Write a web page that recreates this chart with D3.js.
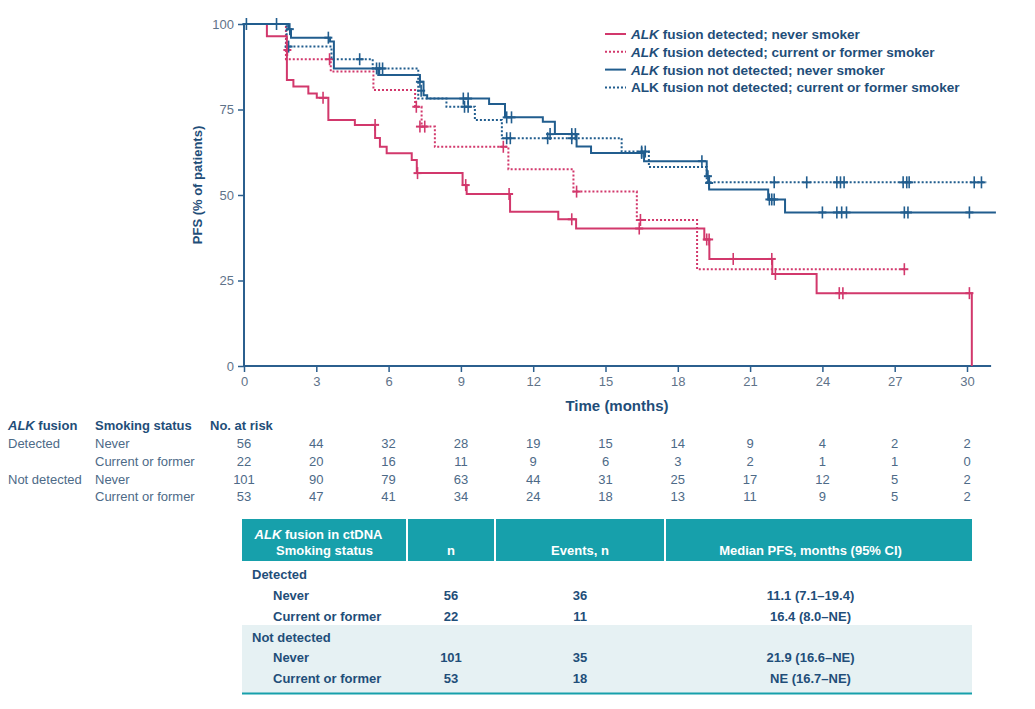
<!DOCTYPE html>
<html><head><meta charset="utf-8">
<script src="https://cdn.jsdelivr.net/npm/d3@7"></script>
<style>body{margin:0;background:#fff}svg{display:block;font-family:"Liberation Sans",Arial,sans-serif}</style>
</head><body><svg id="c" width="1035" height="709"></svg>
<script>
// ---- data ----
const xTicks = [0,3,6,9,12,15,18,21,24,27,30];
const yTicks = [0,25,50,75,100];
// step curves: [time (months), PFS % after step]
const detNever = [[0,100],[0.95,96.4],[1.78,83.6],[2.05,81.7],[2.67,79.7],[3.02,78.4],[3.5,71.9],[4.6,70.5],[5.44,66.7],[5.64,64.1],[5.92,62.2],[6.96,60.2],[7.17,56.4],[9.07,52.9],[9.24,50.3],[11.04,45.1],[13.04,42.9],[13.78,40.2],[19.1,37.0],[19.31,31.3],[21.92,26.9],[23.76,21.3],[30.2,0]];
const detNeverEnd = 30.2;
const detNeverCens = [[3.28,78.4],[5.44,70.5],[7.2,56.4],[9.2,52.9],[11.0,50.3],[13.6,42.9],[16.4,40.2],[19.2,37.0],[19.3,37.0],[20.3,31.3],[21.9,31.3],[22.05,26.9],[24.7,21.3],[24.85,21.3],[30.1,21.3]];
const detCurrent = [[0,100],[1.74,89.7],[3.6,86.1],[5.37,80.7],[7.1,75.8],[7.37,70.0],[7.92,64.1],[10.97,57.5],[13.67,51.0],[16.3,42.7],[18.8,28.3]];
const detCurrentEnd = 27.4;
const detCurrentCens = [[1.8,92.4],[3.55,89.7],[7.15,75.8],[7.3,70.0],[7.5,70.0],[10.76,64.1],[13.8,51.0],[16.45,42.7],[27.4,28.3]];
const notDetNever = [[0,100],[1.84,98.5],[1.95,96.0],[3.57,94.9],[3.73,87.0],[5.57,85.1],[7.3,83.1],[7.45,79.2],[7.6,78.2],[10.17,76.6],[10.83,72.7],[12.4,71.4],[12.9,67.8],[13.8,64.2],[14.4,62.3],[16.6,59.9],[19.2,55.5],[19.3,51.6],[21.75,48.7],[22.45,44.9]];
const notDetNeverEnd = 31.2;
const notDetNeverCens = [[0.1,100],[1.35,100],[1.9,98.5],[3.5,96.0],[5.5,87.0],[7.3,83.1],[9.1,78.2],[9.3,78.2],[10.9,72.7],[11.1,72.7],[12.7,67.8],[13.6,67.8],[13.75,67.8],[16.5,62.3],[19.0,59.9],[19.3,53.5],[21.8,48.7],[21.9,48.7],[22.0,48.7],[24.0,44.9],[24.6,44.9],[24.8,44.9],[25.0,44.9],[27.4,44.9],[27.55,44.9],[30.1,44.9]];
const notDetCurrent = [[0,100],[1.77,93.4],[3.63,89.7],[5.34,87.0],[7.23,78.2],[8.4,75.8],[9.58,71.9],[10.7,66.6],[15.67,62.7],[16.8,58.2],[19.2,53.7]];
const notDetCurrentEnd = 30.8;
const notDetCurrentCens = [[1.85,93.4],[4.8,89.7],[5.62,87.0],[5.75,87.0],[7.35,80.5],[9.15,75.8],[9.3,75.8],[10.9,66.6],[11.05,66.6],[12.6,66.6],[13.6,66.6],[16.5,62.7],[16.65,62.7],[19.25,55.5],[22.0,53.7],[23.35,53.7],[24.6,53.7],[24.75,53.7],[24.9,53.7],[27.35,53.7],[27.5,53.7],[27.6,53.7],[30.3,53.7],[30.6,53.7]];
const legendLabels = [
  [["ALK",true],[" fusion detected; never smoker",false]],
  [["ALK",true],[" fusion detected; current or former smoker",false]],
  [["ALK",true],[" fusion not detected; never smoker",false]],
  [["ALK fusion not detected; current or former smoker",false]]
];
const riskFusion = ["Detected","","Not detected",""];
const riskSmoking = ["Never","Current or former","Never","Current or former"];
const riskDetNever = [56,44,32,28,19,15,14,9,4,2,2];
const riskDetCurrent = [22,20,16,11,9,6,3,2,1,1,0];
const riskNotDetNever = [101,90,79,63,44,31,25,17,12,5,2];
const riskNotDetCurrent = [53,47,41,34,24,18,13,11,9,5,2];
const tblHeader = ["n","Events, n","Median PFS, months (95% CI)"];
const tblGroups = ["Detected","Not detected"];
const tblRowLabels = ["Never","Current or former","Never","Current or former"];
const tblN = [56,22,101,53];
const tblEvents = [36,11,35,18];
const tblMedian = ["11.1 (7.1\u201319.4)","16.4 (8.0\u2013NE)","21.9 (16.6\u2013NE)","NE (16.7\u2013NE)"];

// ---- styles ----
const PINK = "#d2386c", BLUE = "#215d8e", AXIS = "#2b5f8e", TICKTXT = "#5f7389", DARK = "#1f4e79", BODY = "#4d6a87", TEAL = "#17a0ab", LIGHT = "#e6f1f3";

const svg = d3.select("#c");
const x = d3.scaleLinear().domain([0,30]).range([244,967]);
const y = d3.scaleLinear().domain([0,100]).range([366,24]);

// axes
const gx = svg.append("g").attr("transform",`translate(0,${y(0)})`)
  .call(d3.axisBottom(x).tickValues(xTicks).tickSize(6).tickPadding(5).tickSizeOuter(0));
gx.select(".domain").remove();
gx.append("line").attr("x1",x(0)).attr("x2",x(31)).attr("stroke",AXIS).attr("stroke-width",2);
const gy = svg.append("g").attr("transform",`translate(${x(0)},0)`)
  .call(d3.axisLeft(y).tickValues(yTicks).tickSize(6).tickPadding(4).tickSizeOuter(0));
gy.select(".domain").remove();
gy.append("line").attr("y1",y(0)).attr("y2",y(100)-1).attr("stroke",AXIS).attr("stroke-width",2);
svg.selectAll(".tick line").attr("stroke",AXIS).attr("stroke-width",1.5);
svg.selectAll(".tick text").attr("fill",TICKTXT).style("font-size","13px").style("font-family","Liberation Sans, Arial, sans-serif");

svg.append("text").attr("x",617).attr("y",411).attr("text-anchor","middle")
  .attr("fill",DARK).style("font-weight","bold").style("font-size","15px").text("Time (months)");
svg.append("text").attr("transform","translate(202,185) rotate(-90)").attr("text-anchor","middle")
  .attr("fill",DARK).style("font-weight","bold").style("font-size","13px").text("PFS (% of patients)");

// curves
function stepPath(pts,end){
  const arr = pts.map(p=>[p[0],p[1]]);
  const last = arr[arr.length-1];
  if(end>last[0]) arr.push([end,last[1]]);
  return d3.line().x(d=>x(d[0])).y(d=>y(d[1])).curve(d3.curveStepAfter)(arr);
}
const series = [
  {pts:detNever,end:detNeverEnd,cens:detNeverCens,color:PINK,dash:null},
  {pts:detCurrent,end:detCurrentEnd,cens:detCurrentCens,color:PINK,dash:"2,2"},
  {pts:notDetNever,end:notDetNeverEnd,cens:notDetNeverCens,color:BLUE,dash:null},
  {pts:notDetCurrent,end:notDetCurrentEnd,cens:notDetCurrentCens,color:BLUE,dash:"2,2"}
];
[1,3,0,2].forEach(i=>{
  const s = series[i];
  svg.append("path").attr("d",stepPath(s.pts,s.end)).attr("fill","none")
    .attr("stroke",s.color).attr("stroke-width",2).attr("stroke-dasharray",s.dash);
  svg.append("g").selectAll("line").data(s.cens).join("line")
    .attr("x1",d=>x(d[0])).attr("x2",d=>x(d[0]))
    .attr("y1",d=>y(d[1])-6).attr("y2",d=>y(d[1])+6)
    .attr("stroke",s.color).attr("stroke-width",1.6);
  svg.append("g").selectAll("line").data(s.cens).join("line")
    .attr("x1",d=>x(d[0])-4).attr("x2",d=>x(d[0])+4)
    .attr("y1",d=>y(d[1])).attr("y2",d=>y(d[1]))
    .attr("stroke",s.color).attr("stroke-width",2);
});

// legend
const leg = svg.append("g");
series.forEach((s,i)=>{
  const yy = 34 + i*17.8;
  leg.append("line").attr("x1",605).attr("x2",626).attr("y1",yy).attr("y2",yy)
    .attr("stroke",s.color).attr("stroke-width",2).attr("stroke-dasharray",s.dash);
  const t = leg.append("text").attr("x",631).attr("y",yy+5).attr("fill",DARK)
    .style("font-size","13.6px").style("font-weight","bold");
  legendLabels[i].forEach(([txt,it])=>t.append("tspan").style("font-style",it?"italic":"normal").text(txt));
});

// risk table
const rt = svg.append("g");
const h1 = rt.append("text").attr("x",8).attr("y",430).attr("fill",DARK).style("font-size","13px").style("font-weight","bold");
h1.append("tspan").style("font-style","italic").text("ALK");
h1.append("tspan").text(" fusion");
rt.append("text").attr("x",95).attr("y",430).attr("fill",DARK).style("font-size","13px").style("font-weight","bold").text("Smoking status");
rt.append("text").attr("x",210).attr("y",430).attr("fill",DARK).style("font-size","13px").style("font-weight","bold").text("No. at risk");
const riskRows = [riskDetNever,riskDetCurrent,riskNotDetNever,riskNotDetCurrent];
const rowY = [448,466,483.5,501];
riskRows.forEach((r,i)=>{
  rt.append("text").attr("x",8).attr("y",rowY[i]).attr("fill",BODY).style("font-size","13px").text(riskFusion[i]);
  rt.append("text").attr("x",95).attr("y",rowY[i]).attr("fill",BODY).style("font-size","13px").text(riskSmoking[i]);
  rt.append("g").selectAll("text").data(r).join("text")
    .attr("x",(d,j)=>x(xTicks[j])).attr("y",rowY[i]).attr("text-anchor","middle")
    .attr("fill",BODY).style("font-size","13px").text(d=>d);
});

// summary table
const tb = svg.append("g");
const L = 242, R = 972, c1 = 407, c2 = 495, c3 = 665;
tb.append("rect").attr("x",L).attr("y",519).attr("width",R-L).attr("height",42).attr("fill",TEAL);
[c1,c2,c3].forEach(cx=>tb.append("line").attr("x1",cx).attr("x2",cx).attr("y1",519).attr("y2",561).attr("stroke","#fff").attr("stroke-width",2));
tb.append("rect").attr("x",L).attr("y",625).attr("width",R-L).attr("height",68).attr("fill",LIGHT);
tb.append("line").attr("x1",L).attr("x2",R).attr("y1",693.5).attr("y2",693.5).attr("stroke",TEAL).attr("stroke-width",2);
const ht = tb.append("text").attr("x",(L+c1)/2-6).attr("y",539).attr("text-anchor","middle").attr("fill","#fff").style("font-size","13px").style("font-weight","bold");
ht.append("tspan").style("font-style","italic").text("ALK");
ht.append("tspan").text(" fusion in ctDNA");
tb.append("text").attr("x",(L+c1)/2).attr("y",555).attr("text-anchor","middle").attr("fill","#fff").style("font-size","13px").style("font-weight","bold").text("Smoking status");
const hcx = [(c1+c2)/2,(c2+c3)/2,(c3+R)/2-8];
tblHeader.forEach((h,i)=>tb.append("text").attr("x",hcx[i]).attr("y",555).attr("text-anchor","middle").attr("fill","#fff").style("font-size","13px").style("font-weight","bold").text(h));
const gY = [579,641.5];
tblGroups.forEach((g,i)=>tb.append("text").attr("x",252).attr("y",gY[i]).attr("fill",DARK).style("font-size","13px").style("font-weight","bold").text(g));
const bY = [600,621,662,683];
tblRowLabels.forEach((lab,i)=>{
  tb.append("text").attr("x",273).attr("y",bY[i]).attr("fill",DARK).style("font-size","13px").style("font-weight","bold").text(lab);
  tb.append("text").attr("x",hcx[0]).attr("y",bY[i]).attr("text-anchor","middle").attr("fill",DARK).style("font-size","13px").style("font-weight","bold").text(tblN[i]);
  tb.append("text").attr("x",hcx[1]).attr("y",bY[i]).attr("text-anchor","middle").attr("fill",DARK).style("font-size","13px").style("font-weight","bold").text(tblEvents[i]);
  tb.append("text").attr("x",hcx[2]).attr("y",bY[i]).attr("text-anchor","middle").attr("fill",DARK).style("font-size","13px").style("font-weight","bold").text(tblMedian[i]);
});
</script></body></html>
